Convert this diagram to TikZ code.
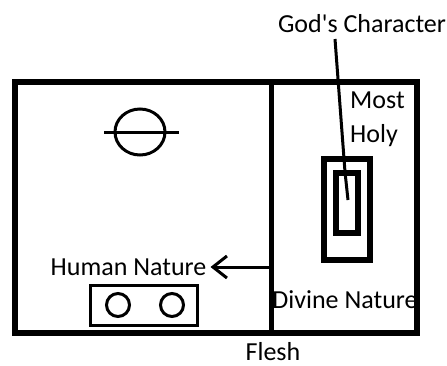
\documentclass[tikz,border=0pt]{standalone}
\usepackage{fontspec}
\setmainfont{Carlito}
\usetikzlibrary{arrows.meta,positioning,calc}

\begin{document}
\begin{tikzpicture}[x=1pt,y=-1pt,
    words/.style={font=\fontsize{26}{31}\selectfont,inner sep=1pt,anchor=base},
    wall/.style={line width=6pt},
    rim/.style={line width=3pt}]
  \useasboundingbox (0,0) rectangle (447,365);

  % the two rooms
  \draw [wall] (15,82) rectangle (417,333);
  \draw [line width=5pt] (271,82) -- (271,333);

  % holy place furniture
  \draw [rim] (140,132) ellipse [x radius=25pt,y radius=23pt];
  \draw [rim] (104,132) -- (179,132);
  \draw [rim] (90.5,285.5) rectangle (197.5,325.5);
  \draw [rim] (118,305) circle [radius=11.5pt];
  \draw [rim] (172,305) circle [radius=11.5pt];

  % most holy place: ark inside
  \draw [wall] (324,158.5) rectangle (370,260);
  \draw [wall] (335.5,172.5) rectangle (358,232.5);

  \node [words] (gods) at (362,32) {God\textquotesingle s Character};
  \node [words,anchor=base west] (most) at (349,108) {Most};
  \node [words,anchor=base west] (holy) at (349,142) {Holy};
  \node [words] (human) at (128.5,275) {Human Nature};
  \node [words] (divine) at (345,308) {Divine Nature};
  \node [words] (flesh) at (273,360) {Flesh};

  % pointer from the label into the ark
  \coordinate (charTop) at (335,39);
  \coordinate (charBend) at (345,172);
  \coordinate (charTip) at (348,200);
  \draw [rim] (charTop) -- (charBend) -- (charTip);

  % out of the veil, toward the human side
  \coordinate (veil) at (271,267);
  \draw [rim,-{Straight Barb[length=14pt,width=22pt]}] (veil) -- ($ (human.east |- veil) + (3,0) $);
\end{tikzpicture}
\end{document}
